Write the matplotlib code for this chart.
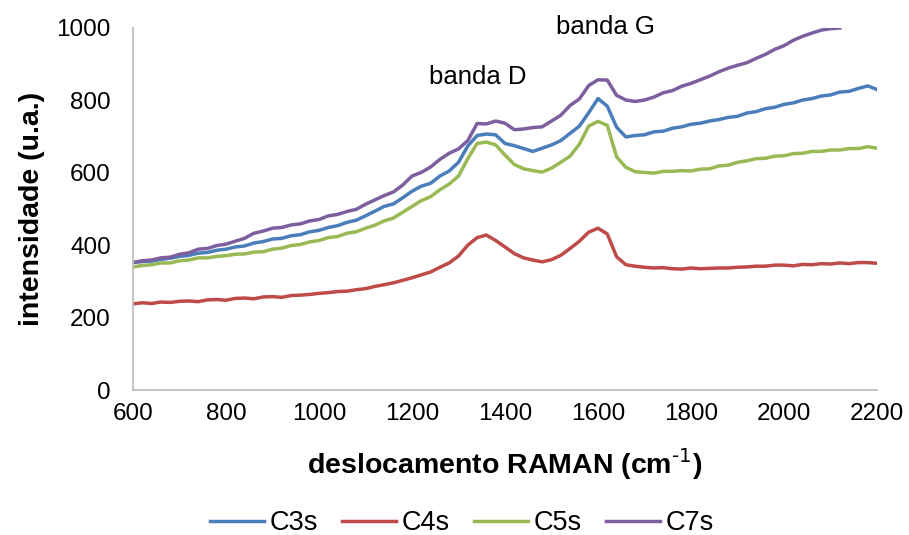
"""
Raman spectra of C3s, C4s, C5s, C7s samples
"""

import matplotlib.pyplot as plt
import numpy as np

plt.rcParams['font.family'] = ['Liberation Sans', 'DejaVu Sans']

# raman shift (cm-1), one reading every 20 cm-1
shift = np.arange(600, 2201, 20)

c3s = [352, 355, 356, 361, 364, 369, 372, 378, 380, 386, 389, 395, 398, 406, 410, 417,
       419, 426, 429, 437, 441, 449, 454, 463, 469, 481, 494, 507, 514, 531, 549, 563,
       571, 591, 605, 629, 674, 703, 707, 705, 681, 675, 667, 659, 668, 677, 689, 709,
       729, 766, 805, 784, 726, 699, 703, 705, 713, 715, 723, 727, 734, 737, 743, 747,
       753, 756, 765, 769, 777, 781, 789, 793, 801, 805, 812, 815, 823, 825, 833, 840,
       830]
c4s = [238, 241, 239, 243, 242, 245, 246, 244, 249, 250, 248, 253, 254, 252, 257, 258,
       256, 261, 262, 264, 267, 269, 272, 273, 277, 280, 286, 291, 296, 303, 310, 318,
       326, 339, 351, 370, 400, 421, 428, 413, 395, 377, 365, 359, 354, 360, 372, 391,
       411, 436, 447, 431, 368, 346, 342, 339, 337, 338, 335, 334, 337, 335, 336, 337,
       337, 339, 340, 342, 342, 345, 345, 343, 347, 346, 349, 348, 351, 349, 352, 352,
       350]
c5s = [340, 344, 346, 351, 351, 357, 359, 365, 365, 369, 371, 375, 376, 381, 382, 389,
       392, 399, 402, 409, 413, 421, 424, 433, 437, 447, 455, 467, 475, 491, 507, 523,
       534, 553, 569, 591, 639, 681, 685, 677, 649, 623, 611, 606, 602, 613, 629, 646,
       679, 729, 742, 731, 644, 615, 603, 601, 599, 604, 604, 606, 605, 610, 611, 619,
       621, 629, 633, 639, 640, 646, 647, 653, 654, 659, 659, 663, 663, 667, 667, 672,
       668]
c7s = [352, 357, 359, 365, 367, 375, 379, 389, 391, 399, 403, 411, 419, 433, 439, 447,
       449, 456, 459, 467, 471, 481, 485, 493, 499, 513, 525, 537, 547, 566, 591, 601,
       616, 637, 654, 666, 689, 736, 735, 743, 737, 719, 721, 725, 727, 743, 759, 786,
       804, 841, 857, 856, 814, 801, 797, 801, 809, 821, 827, 839, 847, 857, 867, 879,
       889, 897, 904, 916, 927, 941, 951, 966, 977, 986, 994, 998, 1000]

series = [("C3s", c3s, "#4A7EBB"),
          ("C4s", c4s, "#BE4B48"),
          ("C5s", c5s, "#98B954"),
          ("C7s", c7s, "#7D5FA0")]

fig = plt.figure(figsize=(9.09, 5.35), dpi=100)
ax = fig.add_axes([0.1463, 0.271, 0.8185, 0.6767])

for name, vals, col in series:
    ax.plot(shift[:len(vals)], vals, color=col, lw=2.5, label=name)

ax.set_xlim(600, 2200)
ax.set_ylim(0, 1000)
ax.set_xticks(np.arange(600, 2201, 200))
ax.set_yticks(np.arange(0, 1001, 200))
ax.tick_params(length=0, labelsize=17.5)
ax.tick_params(axis='y', pad=16)
ax.tick_params(axis='x', pad=9)

for s in ['top', 'right']:
    ax.spines[s].set_visible(False)
for s in ['left', 'bottom']:
    ax.spines[s].set_color('#BFBFBF')
    ax.spines[s].set_linewidth(1.3)

ax.set_xlabel('deslocamento RAMAN (cm$^{\\text{-1}}$)', fontsize=20.5,
              fontweight='bold', va='top')
ax.set_ylabel('intensidade (u.a.)', fontsize=20.5, fontweight='bold')
ax.xaxis.set_label_coords(0.5, -0.155)
ax.yaxis.set_label_coords(-0.118, 0.5)

# peak labels
ax.text(1342, 865, 'banda D', fontsize=18.5, ha='center', va='center')
ax.text(1615, 1003, 'banda G', fontsize=18.5, ha='center', va='center', clip_on=False)

fig.legend(loc='center', bbox_to_anchor=(0.508, 0.022), ncol=4, frameon=False,
           fontsize=19.5, handlelength=2.0, columnspacing=0.9, handletextpad=0.2)

fig.savefig('out.png', dpi=100)
